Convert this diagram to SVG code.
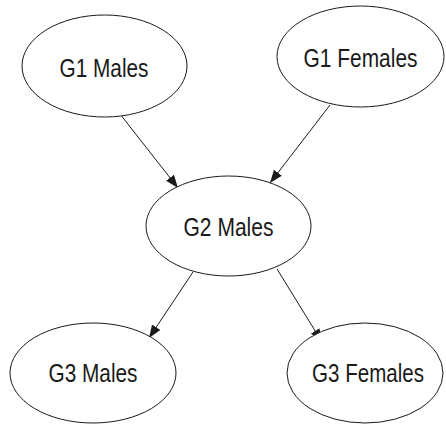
<svg xmlns="http://www.w3.org/2000/svg" width="446" height="425" viewBox="0 0 446 425">
  <style>
    .node ellipse { fill: #ffffff; stroke: #1a1a1a; stroke-width: 1; }
    .node text { font-family: "Liberation Sans", Arial, sans-serif; font-size: 25px; fill: #1a1a1a; text-anchor: middle; }
    .edge { stroke: #1a1a1a; stroke-width: 1; fill: none; marker-end: url(#arrow); }
  </style>
  <defs>
    <marker id="arrow" markerUnits="userSpaceOnUse" markerWidth="14" markerHeight="11" refX="13" refY="5.5" orient="auto">
      <path d="M0,0.5 L13,5.5 L0,10.5 Z" fill="#1a1a1a"/>
    </marker>
  </defs>
  <rect width="446" height="425" fill="#ffffff"/>

  <g id="connectors">
    <line class="edge" x1="120" y1="114" x2="178" y2="188"/>
    <line class="edge" x1="330" y1="105" x2="270" y2="183"/>
    <line class="edge" x1="193" y1="272" x2="149" y2="338"/>
    <line class="edge" x1="277" y1="269" x2="322" y2="342"/>
  </g>

  <g id="g1-males" class="node">
    <ellipse cx="104.5" cy="66" rx="82.5" ry="51"/>
    <text x="104" y="76.5" textLength="89" lengthAdjust="spacingAndGlyphs">G1 Males</text>
  </g>
  <g id="g1-females" class="node">
    <ellipse cx="360.5" cy="56.5" rx="83.5" ry="50.5"/>
    <text x="360.5" y="66.5" textLength="114" lengthAdjust="spacingAndGlyphs">G1 Females</text>
  </g>
  <g id="g2-males" class="node">
    <ellipse cx="228.5" cy="226" rx="82.5" ry="50"/>
    <text x="228.5" y="235.5" textLength="90" lengthAdjust="spacingAndGlyphs">G2 Males</text>
  </g>
  <g id="g3-males" class="node">
    <ellipse cx="93" cy="373" rx="83" ry="50"/>
    <text x="93" y="382" textLength="89" lengthAdjust="spacingAndGlyphs">G3 Males</text>
  </g>
  <g id="g3-females" class="node">
    <ellipse cx="365" cy="373" rx="78" ry="50"/>
    <text x="368" y="382" textLength="112" lengthAdjust="spacingAndGlyphs">G3 Females</text>
  </g>
</svg>
